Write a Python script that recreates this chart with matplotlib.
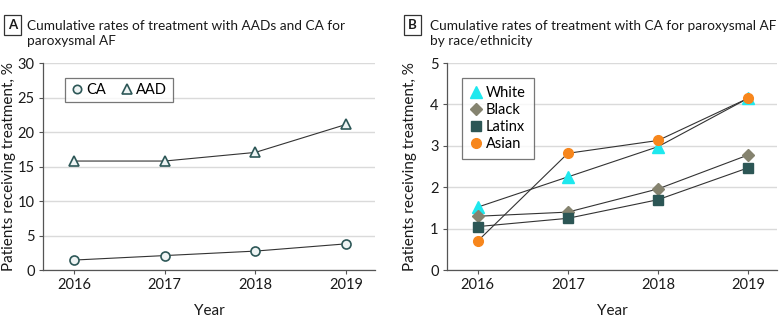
import matplotlib
matplotlib.use("Agg")
import matplotlib.pyplot as plt
from matplotlib.lines import Line2D

plt.rcParams['font.family'] = ['Lato', 'DejaVu Sans']

years = [2016, 2017, 2018, 2019]

# Panel A
ca = [1.45, 2.1, 2.75, 3.8]
aad = [15.8, 15.8, 17.05, 21.1]

# Panel B
white = [1.52, 2.25, 2.98, 4.15]
black = [1.3, 1.4, 1.96, 2.78]
latinx = [1.05, 1.25, 1.7, 2.47]
asian = [0.7, 2.82, 3.13, 4.15]

teal = '#2d5757'
grid_c = '#dadada'
text_c = '#1a1a1a'

fig = plt.figure(figsize=(7.83, 3.25), dpi=100)
axA = fig.add_axes([0.0549, 0.169, 0.4241, 0.637])
axB = fig.add_axes([0.5709, 0.169, 0.4215, 0.637])


def style_axes(ax, ymax, ystep, ylab_x):
    ax.set_xlim(2015.66, 2019.32)
    ax.set_ylim(0, ymax)
    ax.set_xticks(years)
    ax.set_yticks(range(0, ymax + 1, ystep))
    ax.yaxis.grid(True, color=grid_c, lw=1)
    ax.set_axisbelow(True)
    for s in ['top', 'right']:
        ax.spines[s].set_visible(False)
    for s in ['left', 'bottom']:
        ax.spines[s].set_color('#555555')
        ax.spines[s].set_linewidth(0.9)
    ax.tick_params(labelsize=10.5, length=3, color='#555555', labelcolor=text_c, pad=3)
    ax.set_xlabel('Year', fontsize=11, color=text_c)
    ax.xaxis.set_label_coords(0.5, -0.165)
    ax.set_ylabel('Patients receiving treatment, %', fontsize=11, color=text_c)
    ax.yaxis.set_label_coords(ylab_x, 0.5)


style_axes(axA, 30, 5, -0.082)
axA.plot(years, ca, color='#333333', lw=0.8, marker='o', ms=6.5, mfc='#eef4f4', mec=teal, mew=1.2, label='CA', zorder=3)
axA.plot(years, aad, color='#333333', lw=0.8, marker='^', ms=7.5, mfc='#eef4f4', mec=teal, mew=1.2, label='AAD', zorder=3)
hA = [Line2D([], [], ls='none', marker='o', ms=6, mfc='#eef4f4', mec=teal, mew=1.2),
      Line2D([], [], ls='none', marker='^', ms=7, mfc='#eef4f4', mec=teal, mew=1.2)]
legA = axA.legend(hA, ['CA', 'AAD'], ncol=2, loc='upper left', bbox_to_anchor=(0.066, 0.928),
                  fontsize=10.5, frameon=True, fancybox=False, edgecolor='#555555',
                  handletextpad=0.2, columnspacing=1.0, borderpad=0.35, handlelength=0.9,
                  borderaxespad=0)
legA.get_frame().set_linewidth(0.9)

style_axes(axB, 5, 1, -0.09)
axB.plot(years, white, color='#333333', lw=0.8, marker='^', ms=8, mfc='#1ee8ee', mec='#1ee8ee', label='White', zorder=3)
axB.plot(years, black, color='#333333', lw=0.8, marker='D', ms=6, mfc='#85836f', mec='#85836f', label='Black', zorder=3)
axB.plot(years, latinx, color='#333333', lw=0.8, marker='s', ms=6.5, mfc='#2c5655', mec='#2c5655', label='Latinx', zorder=3)
axB.plot(years, asian, color='#333333', lw=0.8, marker='o', ms=7, mfc='#f7861c', mec='#f7861c', label='Asian', zorder=4)
hB = [Line2D([], [], ls='none', marker='^', ms=8, mfc='#1ee8ee', mec='#1ee8ee'),
      Line2D([], [], ls='none', marker='D', ms=6, mfc='#85836f', mec='#85836f'),
      Line2D([], [], ls='none', marker='s', ms=6.5, mfc='#2c5655', mec='#2c5655'),
      Line2D([], [], ls='none', marker='o', ms=7, mfc='#f7861c', mec='#f7861c')]
legB = axB.legend(hB, ['White', 'Black', 'Latinx', 'Asian'], loc='upper left', bbox_to_anchor=(0.045, 0.928),
                  fontsize=10.5, frameon=True, fancybox=False, edgecolor='#555555',
                  handletextpad=0.2, borderpad=0.55, handlelength=0.9, labelspacing=0.2,
                  borderaxespad=0)
legB.get_frame().set_linewidth(0.9)

# panel titles with boxed letters
box = dict(boxstyle='square,pad=0.3', fc='white', ec='#333333', lw=0.9)
fig.text(0.016, 0.923, 'A', fontsize=9.5, fontweight='bold', ha='center', va='center', bbox=box, color=text_c)
fig.text(0.0345, 0.897, 'Cumulative rates of treatment with AADs and CA for\nparoxysmal AF',
         fontsize=9.8, ha='left', va='center', color=text_c, linespacing=1.3)
fig.text(0.527, 0.923, 'B', fontsize=9.5, fontweight='bold', ha='center', va='center', bbox=box, color=text_c)
fig.text(0.549, 0.897, 'Cumulative rates of treatment with CA for paroxysmal AF\nby race/ethnicity',
         fontsize=9.8, ha='left', va='center', color=text_c, linespacing=1.3)

fig.savefig('out.png', dpi=100)
